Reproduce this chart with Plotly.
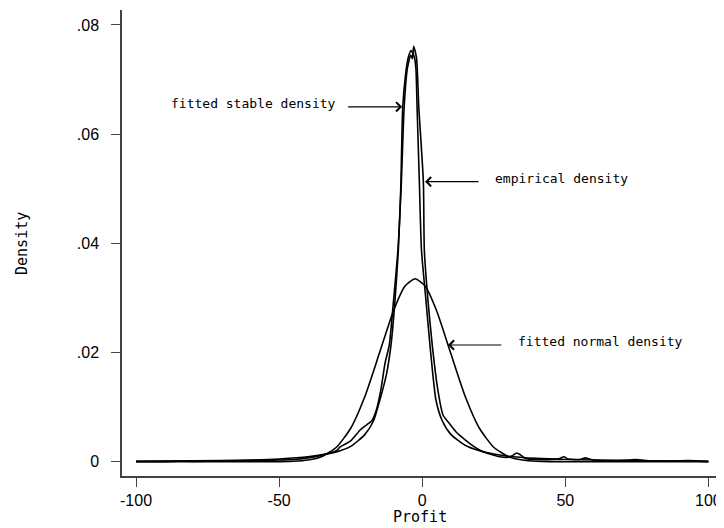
import plotly.graph_objects as go

# ---- data ----
empirical_x = [-100, -90, -85, -80, -70, -60, -50, -45, -40, -35, -30, -28.7, -25, -21.7, -19.3, -17.6,
               -16, -14.5, -13, -11.5, -10, -8.5, -7.3, -6.3, -5.2, -4.0, -3.4, -3.0, -2.0, -1.2, 0.4,
               0.74, 2.0, 3.5, 5.5, 7.3, 9.5, 12.1, 15, 18, 20.2, 23, 25, 27.2, 30, 31.5, 33, 34.5,
               36, 40, 45, 48, 49.5, 51, 55, 57, 59, 65, 72, 75, 78, 85, 93, 100]
empirical_y = [0.0, 0.0, 0.0001, 0.00005, 0.0001, 0.0002, 0.0003, 0.0004, 0.0007, 0.0012, 0.0020, 0.0027,
               0.0038, 0.0058, 0.0068, 0.0075, 0.0095, 0.0130, 0.0180, 0.0214, 0.0296, 0.0387, 0.0510,
               0.0650, 0.0720, 0.0745, 0.0738, 0.0761, 0.0740, 0.0650, 0.0513, 0.0387, 0.0296, 0.0214,
               0.0130, 0.0085, 0.0070, 0.0053, 0.0040, 0.0028, 0.0021, 0.0015, 0.0012, 0.0009, 0.0008,
               0.0011, 0.0016, 0.0012, 0.0006, 0.0004, 0.0004, 0.0006, 0.0009, 0.0005, 0.0004, 0.0007,
               0.0004, 0.0002, 0.0003, 0.0004, 0.0002, 0.0001, 0.0002, 0.0]

stable_x = [-100, -80, -60, -50, -40, -30, -25, -20, -17, -14.8, -12.5, -10.9, -9.5, -8.35, -7.5, -6.8,
            -5.8, -4.9, -3.9, -2.8, -2.2, -1.8, -1.0, -0.25, 1.3, 2.7, 4.8, 7, 10, 15, 20, 25, 30, 40,
            50, 60, 80, 100]
stable_y = [0.0001, 0.00015, 0.0003, 0.0005, 0.0009, 0.0018, 0.0028, 0.0050, 0.0075, 0.0113, 0.0160,
            0.0214, 0.0296, 0.0387, 0.0500, 0.0650, 0.0710, 0.0740, 0.0753, 0.0742, 0.0720, 0.0650,
            0.0513, 0.0387, 0.0296, 0.0214, 0.0113, 0.0075, 0.0050, 0.0030, 0.0020, 0.0014, 0.0010,
            0.0006, 0.0004, 0.0003, 0.00015, 0.0001]

normal_x = [-100, -70, -60, -55, -50, -45, -40, -35, -30, -25, -20, -15, -10, -6, -2.5, 1, 5, 10, 15,
            20, 25, 30, 35, 40, 45, 50, 60, 100]
normal_y = [0.0, 0.0, 0.0, 0.000003, 0.000017, 0.000077, 0.0003, 0.00097, 0.00264, 0.00612, 0.0120,
            0.0198, 0.0277, 0.0322, 0.0335, 0.0322, 0.0277, 0.0198, 0.0120, 0.00612, 0.00264, 0.00097,
            0.0003, 0.000077, 0.000017, 0.000003, 0.0, 0.0]

y_tickvals = [0, 0.02, 0.04, 0.06, 0.08]
y_ticktext = ["0", ".02", ".04", ".06", ".08"]
x_tickvals = [-100, -50, 0, 50, 100]
x_ticktext = ["-100", "-50", "0", "50", "100"]

labels = ["fitted stable density", "empirical density", "fitted normal density"]

# ---- figure ----
fig = go.Figure()
line_style = dict(color="black", width=1.6, shape="spline", smoothing=0.6)
for xs, ys in [(normal_x, normal_y), (stable_x, stable_y), (empirical_x, empirical_y)]:
    fig.add_trace(go.Scatter(x=xs, y=ys, mode="lines", line=line_style, showlegend=False,
                             hoverinfo="skip"))

axis_color = "#444444"
tick_font = dict(family="Liberation Sans, Arial, sans-serif", size=16, color="black")
mono = "DejaVu Sans Mono, monospace"

# the page body has an 8px margin, so the figure is sized/offset to compensate
fig.update_layout(
    width=716, height=520,
    margin=dict(l=114, r=1, t=2, b=52),
    paper_bgcolor="white", plot_bgcolor="white",
    showlegend=False,
    xaxis=dict(range=[-104.9, 105.1], tickvals=x_tickvals, ticktext=x_ticktext,
               showline=True, linecolor=axis_color, linewidth=1.5, mirror=False,
               ticks="outside", ticklen=9, tickwidth=1.3, tickcolor=axis_color,
               showgrid=False, zeroline=False, tickfont=tick_font),
    yaxis=dict(range=[-0.00262, 0.08273], tickvals=y_tickvals, ticktext=y_ticktext,
               showline=True, linecolor=axis_color, linewidth=1.5, mirror=False,
               ticks="outside", ticklen=9, tickwidth=1.3, tickcolor=axis_color,
               showgrid=False, zeroline=False, tickfont=tick_font, ticklabelstandoff=9),
)

ann_font = dict(family=mono, size=13, color="black")
# axis titles
fig.add_annotation(text="Profit", xref="paper", yref="paper", x=0.496, y=-0.088,
                   xanchor="center", yanchor="middle", showarrow=False,
                   font=dict(family=mono, size=15, color="black"))
fig.add_annotation(text="Density", xref="paper", yref="paper", x=-0.1664, y=0.5,
                   xanchor="center", yanchor="middle", showarrow=False, textangle=-90,
                   font=dict(family=mono, size=15, color="black"))

# label texts
fig.add_annotation(text=labels[0], x=-29.4, y=0.06564, xanchor="right", yanchor="middle",
                   showarrow=False, font=ann_font)
fig.add_annotation(text=labels[1], x=24.6, y=0.05196, xanchor="left", yanchor="middle",
                   showarrow=False, font=ann_font)
fig.add_annotation(text=labels[2], x=32.8, y=0.02198, xanchor="left", yanchor="middle",
                   showarrow=False, font=ann_font)

# arrows
for tip_x, tip_y, tail_x in [(-7.0, 0.0650, -26.4), (0.98, 0.05128, 20.2), (9.0, 0.02137, 28.2)]:
    fig.add_annotation(text="", x=tip_x, y=tip_y, ax=tail_x, ay=tip_y, axref="x", ayref="y",
                       showarrow=True, arrowhead=4, arrowsize=1.5, arrowwidth=1.2,
                       arrowcolor="black", standoff=0, startstandoff=0)

fig.write_html("out.html", config={"displayModeBar": False})
